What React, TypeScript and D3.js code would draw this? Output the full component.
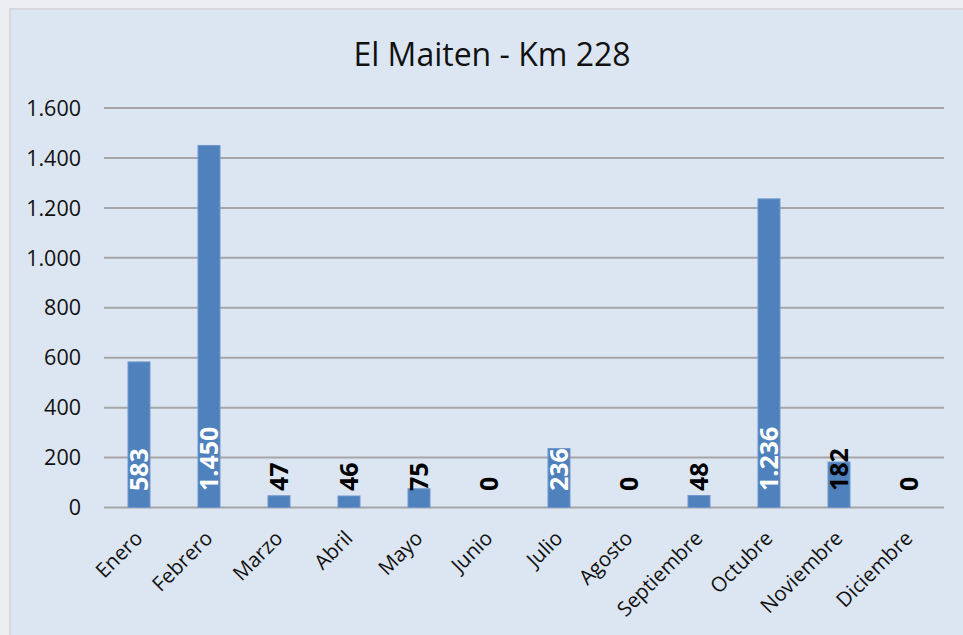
import React from "react";
import * as d3 from "d3";

const months = ["Enero","Febrero","Marzo","Abril","Mayo","Junio","Julio","Agosto","Septiembre","Octubre","Noviembre","Diciembre"];
const values = [583, 1450, 47, 46, 75, 0, 236, 0, 48, 1236, 182, 0];
const yTicks = [0, 200, 400, 600, 800, 1000, 1200, 1400, 1600];
const title = "El Maiten - Km 228";

const W = 963, H = 635;
const plot = { left: 104, right: 944, top: 108, bottom: 507.5 };
const FONT = "'Open Sans', 'Liberation Sans', sans-serif";

const fmt = (v: number) => d3.format(",")(v).replace(/,/g, ".");

export default function App() {
  const x = d3.scaleBand<string>().domain(months).range([plot.left, plot.right]).paddingInner(0.686).paddingOuter(0.343);
  const y = d3.scaleLinear().domain([0, 1600]).range([plot.bottom, plot.top]);
  const bw = x.bandwidth();
  return (
    <svg width={W} height={H} style={{ position: "absolute", left: 0, top: 0 }} fontFamily={FONT}>
      <rect x={0} y={0} width={W} height={H} fill="#eceef2" />
      <rect x={10} y={9} width={W} height={H} fill="#dce6f2" stroke="#d6d8dc" strokeWidth={2} />
      <text x={492} y={66} textAnchor="middle" fontSize={32} fill="#111">{title}</text>
      {yTicks.map((t) => (
        <g key={t}>
          <line x1={plot.left} x2={plot.right} y1={y(t)} y2={y(t)} stroke="#a6a6a6" strokeWidth={2} />
          <text x={81} y={y(t)} dy="0.36em" textAnchor="end" fontSize={21.5} fill="#111">{fmt(t)}</text>
        </g>
      ))}
      {months.map((m, i) => {
        const v = values[i];
        const x0 = x(m)!;
        const cx = x0 + bw / 2;
        return (
          <g key={m}>
            {v > 0 && (
              <rect x={x0} y={y(v)} width={bw} height={y(0) - y(v)} fill="#4f81bd" stroke="#6f97cb" strokeWidth={1} />
            )}
            <text transform={`translate(${cx},${plot.bottom - 16.5}) rotate(-90)`} dy="0.36em" fontSize={25} fontWeight="bold" fill={v > 200 ? "#ffffff" : "#000000"}>{fmt(v)}</text>
            <text transform={`translate(${cx + 5},${plot.bottom + 32}) rotate(-45)`} textAnchor="end" fontSize={20.5} fill="#111">{m}</text>
          </g>
        );
      })}
    </svg>
  );
}
